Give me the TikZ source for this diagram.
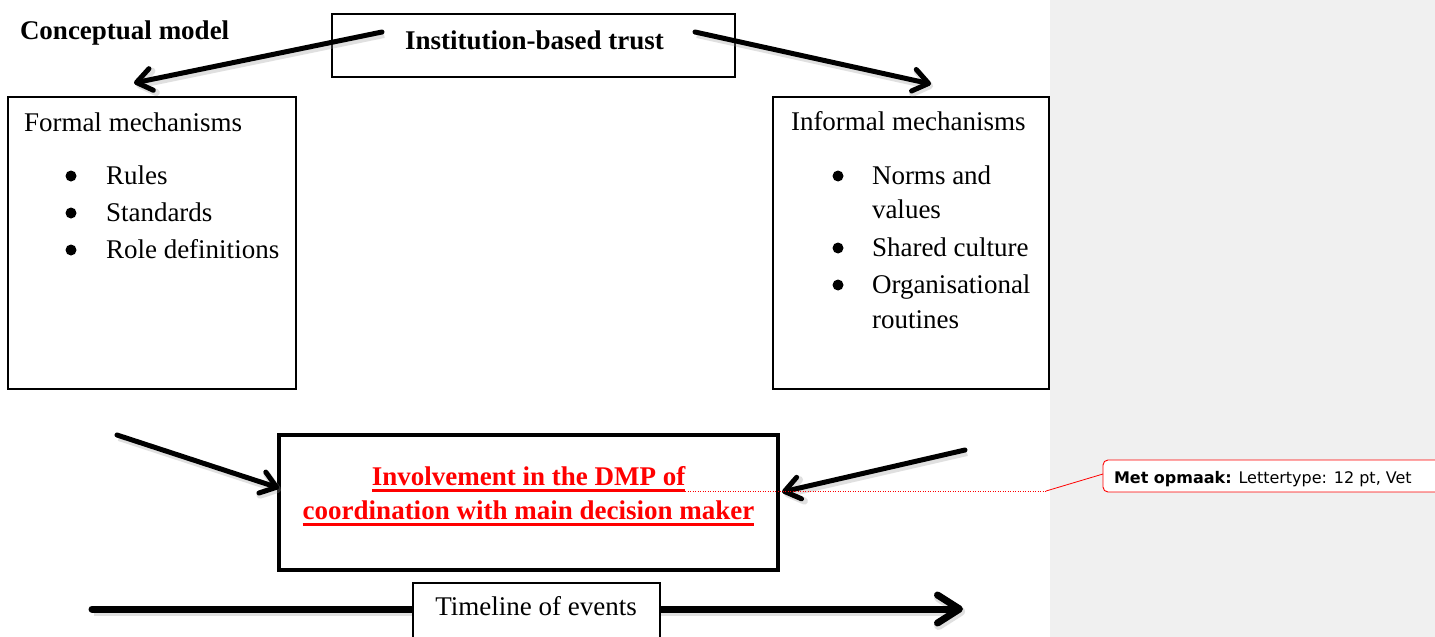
\documentclass[tikz,border=0pt]{standalone}
\usepackage{fontspec}
\setmainfont{Liberation Serif}
\newfontfamily\notefont{DejaVu Sans}
\usetikzlibrary{arrows.meta}
\definecolor{panelgray}{HTML}{F0F0F0}
\definecolor{markred}{HTML}{FF0000}

\begin{document}
\begin{tikzpicture}[x=1pt,y=-1pt,
  every node/.style={inner sep=0pt, outer sep=0pt},
  txt/.style={font=\fontsize{27}{32}\selectfont, anchor=base west},
  ctr/.style={font=\fontsize{27}{32}\selectfont, anchor=base},
  bul/.style={circle, fill=black, minimum size=11pt},
  thinbox/.style={draw=black, line width=1.3pt, fill=white, anchor=north west},
  heavybox/.style={draw=black, line width=4.5pt, fill=white, anchor=north west},
  bigarrow/.style={line width=5pt, line cap=round,
    -{Straight Barb[length=15pt,width=22pt,line cap=round,line join=round]},
    preaction={draw=black!40, opacity=.3, line width=7pt,
      transform canvas={shift={(2pt,-2.5pt)}}}},
  timearrow/.style={line width=7pt, line cap=round,
    -{Straight Barb[length=22pt,width=28pt,line cap=round,line join=round]},
    preaction={draw=black!40, opacity=.3, line width=9pt,
      transform canvas={shift={(2pt,-2.5pt)}}}},
  redline/.style={draw=markred, line width=2.6pt},
  notelink/.style={draw=markred, line width=0.8pt}
]
\useasboundingbox (0,0) rectangle (1435,637);
\clip (0,0) rectangle (1435,637);
\fill[white] (0,0) rectangle (1435,637);

% comment pane on the right
\node[fill=panelgray, anchor=north west, minimum width=385pt, minimum height=637pt] (pane) at (1050,0) {};

% title
\node[txt, font=\fontsize{27}{32}\selectfont\bfseries] (title) at (20,39) {Conceptual model};

% top box
\node[thinbox, minimum width=403pt, minimum height=63pt] (inst) at (332,14) {};
\node[txt, font=\fontsize{27}{32}\selectfont\bfseries] (insttext) at (405,49) {Institution-based trust};

% formal mechanisms
\node[thinbox, minimum width=288pt, minimum height=292pt] (formal) at (8,97) {};
\node[txt] (ftitle) at (24,131) {Formal mechanisms};
\node[bul] (fb1) at (71,176) {};
\node[bul] (fb2) at (71,213) {};
\node[bul] (fb3) at (71,250) {};
\node[txt] (f1) at (106,184) {Rules};
\node[txt] (f2) at (106,221) {Standards};
\node[txt] (f3) at (106,258) {Role definitions};

% informal mechanisms
\node[thinbox, minimum width=276pt, minimum height=292pt] (informal) at (773,97) {};
\node[txt] (ititle) at (791,130) {Informal mechanisms};
\node[bul] (ib1) at (838,176) {};
\node[bul] (ib2) at (838,248) {};
\node[bul] (ib3) at (838,285) {};
\node[txt] (i1) at (872,184) {Norms and};
\node[txt] (i1b) at (872,218) {values};
\node[txt] (i2) at (872,256) {Shared culture};
\node[txt] (i3) at (872,293) {Organisational};
\node[txt] (i3b) at (872,328) {routines};

% central box
\node[heavybox, minimum width=499pt, minimum height=135pt] (center) at (279,435) {};
\node[ctr, font=\fontsize{27}{32}\selectfont\bfseries, text=markred] (l1) at (528.5,485) {Involvement in the DMP of};
\node[ctr, font=\fontsize{27}{32}\selectfont\bfseries, text=markred] (l2) at (528.5,519) {coordination with main decision maker};
\draw[redline] ([yshift=-5.5pt]l1.base west) -- ([yshift=-5.5pt]l1.base east);
\draw[redline] ([yshift=-5.5pt]l2.base west) -- ([yshift=-5.5pt]l2.base east);

% arrows from the top box
\coordinate (instL) at (382,32);
\coordinate (instR) at (695,32);
\coordinate (formalIn) at (134,83);
\coordinate (informalIn) at (931,84);
\draw[bigarrow] (instL) -- (formalIn);
\draw[bigarrow] (instR) -- (informalIn);

% arrows into the central box
\coordinate (fromFormal) at (117,435);
\coordinate (fromInformal) at (965,450);
\draw[bigarrow] (fromFormal) -- ([yshift=14.5pt]center.west);
\draw[bigarrow] (fromInformal) -- ([shift={(4pt,10.5pt)}]center.east);

% timeline
\coordinate (tStart) at (92,609);
\coordinate (tEnd) at (963,609);
\draw[timearrow] (tStart) -- (tEnd);
\node[thinbox, minimum width=247pt, minimum height=70pt] (timeline) at (413,583) {};
\node[ctr] (ttext) at (536,615) {Timeline of events};

% comment balloon and its link
\node[draw=markred, line width=0.9pt, fill=white, rounded corners=5pt, anchor=north west,
      minimum width=345pt, minimum height=32pt] (note) at (1103,460) {};
\node[anchor=base west, font=\notefont\fontsize{16}{18}\selectfont] (notetext) at (1114,483.5)
  {\textbf{Met opmaak:} Lettertype: 12 pt, Vet};
\coordinate (bend) at (1046,491);
\draw[notelink, dash pattern=on 1pt off 1.5pt] ([yshift=-6pt]l1.base east) -- (bend);
\draw[notelink] (bend) -- ([yshift=2pt]note.west);
\end{tikzpicture}
\end{document}
